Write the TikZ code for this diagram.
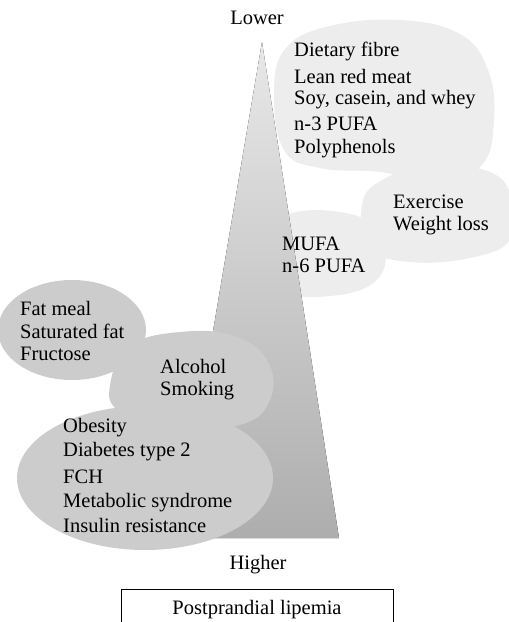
\documentclass[tikz,border=0pt]{standalone}
\usepackage{fontspec}
\setmainfont{Liberation Serif}
\begin{document}
\begin{tikzpicture}[x=1pt,y=-1pt,
  lbl/.style={anchor=base west, inner sep=0pt, font=\fontsize{20.5}{24}\selectfont},
  clbl/.style={anchor=base, inner sep=0pt, font=\fontsize{20.5}{24}\selectfont},
  lightblob/.style={fill=gray!14, draw=none},
  darkblob/.style={fill=gray!40, draw=none},
  wedge/.style={top color=gray!18, bottom color=gray!64, draw=none},
  framebox/.style={draw=black, line width=0.8pt, inner sep=0pt, minimum width=272pt,
    text height=25pt, text depth=12pt, anchor=north, font=\fontsize{20.5}{24}\selectfont}]
\useasboundingbox (0,0) rectangle (509,622);
% light blobs (protective factors)
\fill[lightblob] plot[smooth cycle, tension=0.7] coordinates {
  (274,92) (286,48) (330,26) (400,20) (460,34) (488,70) (494,120) (482,165)
  (440,182) (380,172) (320,168) (284,150)};
\fill[lightblob] plot[smooth cycle, tension=0.7] coordinates {
  (362,205) (382,180) (430,166) (490,172) (512,200) (510,240) (470,258)
  (410,262) (370,248)};
\fill[lightblob] plot[smooth cycle, tension=0.7] coordinates {
  (268,232) (292,213) (340,212) (374,226) (386,256) (372,284) (330,296)
  (285,292) (262,265)};
% wedge
\fill[wedge] (262,42) -- (339,538) -- (178,538) -- cycle;
% dark blobs (risk factors)
\fill[darkblob] (72,330) ellipse [x radius=74, y radius=50];
\fill[darkblob] plot[smooth cycle, tension=0.7] coordinates {
  (110,385) (130,346) (180,332) (235,336) (268,362) (270,400) (240,425)
  (170,428) (120,412)};
\fill[darkblob] (145,478) ellipse [x radius=128, y radius=72];
% labels
\node[clbl] (lower) at (257,24) {Lower};
\node[lbl] (t1) at (294,56) {Dietary fibre};
\node[lbl] (t2) at (294,83) {Lean red meat};
\node[lbl] (t3) at (294,104) {Soy, casein, and whey};
\node[lbl] (t4) at (294,130) {n-3 PUFA};
\node[lbl] (t5) at (294,153) {Polyphenols};
\node[lbl] (e1) at (393,208) {Exercise};
\node[lbl] (e2) at (393,230) {Weight loss};
\node[lbl] (m1) at (282,250) {MUFA};
\node[lbl] (m2) at (282,272) {n-6 PUFA};
\node[lbl] (f1) at (20,315) {Fat meal};
\node[lbl] (f2) at (20,338) {Saturated fat};
\node[lbl] (f3) at (20,360) {Fructose};
\node[lbl] (a1) at (160,373) {Alcohol};
\node[lbl] (a2) at (160,395) {Smoking};
\node[lbl] (o1) at (63,432) {Obesity};
\node[lbl] (o2) at (63,456) {Diabetes type 2};
\node[lbl] (o3) at (63,483) {FCH};
\node[lbl] (o4) at (63,507) {Metabolic syndrome};
\node[lbl] (o5) at (63,532) {Insulin resistance};
\node[clbl] (higher) at (258,569) {Higher};
\node[framebox] (pl) at (257,589) {Postprandial lipemia};
\end{tikzpicture}
\end{document}
